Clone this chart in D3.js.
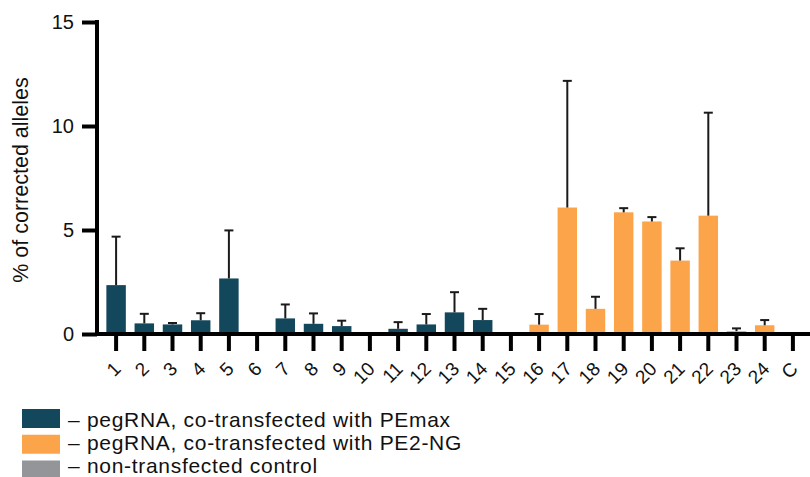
<!DOCTYPE html>
<html>
<head>
<meta charset="utf-8">
<script src="https://cdn.jsdelivr.net/npm/d3@7"></script>
<style>
	body { margin: 0; background: #fff; }
	svg text { font-family: "Liberation Sans", Arial, sans-serif; fill: #111; }
</style>
</head>
<body>
<svg id="chart" width="810" height="477"></svg>
<script>
// categories along the x axis
var categories = ['1', '2', '3', '4', '5', '6', '7', '8', '9', '10', '11', '12', '13',
	'14', '15', '16', '17', '18', '19', '20', '21', '22', '23', '24', 'C'];

// mean % of corrected alleles and upper error (SD)
var means = [2.35, 0.51, 0.46, 0.66, 2.67, 0, 0.75, 0.49, 0.38, 0.06, 0.25, 0.46, 1.04,
	0.67, 0.03, 0.45, 6.08, 1.21, 5.85, 5.41, 3.53, 5.69, 0.14, 0.42, 0];
var errors = [2.33, 0.46, 0.07, 0.34, 2.31, 0, 0.67, 0.5, 0.26, 0, 0.32, 0.5, 0.97,
	0.54, 0, 0.51, 6.09, 0.58, 0.2, 0.21, 0.59, 4.95, 0.13, 0.25, 0];

// group of each category: 0 = PEmax, 1 = PE2-NG, 2 = control
var groups = [0, 0, 0, 0, 0, 0, 0, 0, 0, 0, 0, 0, 0, 0, 1, 1, 1, 1, 1, 1, 1, 1, 1, 1, 2];

var yTicks = [0, 5, 10, 15];

var legendLabels = ['– pegRNA, co-transfected with PEmax',
	'– pegRNA, co-transfected with PE2-NG',
	'– non-transfected control'];
var groupColors = ['#13475b', '#fca44a', '#939598'];

var svg = d3.select('#chart');

var x = d3.scaleBand()
		.domain(categories)
		.range([102, 807])
		.paddingInner(0.31)
		.paddingOuter(0.155);

var y = d3.scaleLinear()
		.domain([0, 15])
		.range([334, 22]);

// bars
svg.append('g').selectAll('rect')
		.data(categories)
		.enter().append('rect')
		.attr('x', function (d) { return x(d); })
		.attr('width', x.bandwidth())
		.attr('y', function (d, i) { return y(means[i]); })
		.attr('height', function (d, i) { return y(0) - y(means[i]); })
		.attr('fill', function (d, i) { return groupColors[groups[i]]; });

// error bars (upper only)
var err = svg.append('g').attr('stroke', '#1a1a1a').attr('stroke-width', 2);
categories.forEach(function (c, i) {
	if (errors[i] <= 0) return;
	var cx = x(c) + x.bandwidth() / 2,
		top = y(means[i] + errors[i]);
	err.append('line')
			.attr('x1', cx).attr('x2', cx)
			.attr('y1', y(means[i])).attr('y2', top);
	err.append('line')
			.attr('x1', cx - 4.5).attr('x2', cx + 4.5)
			.attr('y1', top).attr('y2', top);
});

// y axis
var yAxis = svg.append('g')
		.attr('transform', 'translate(97,0)')
		.call(d3.axisLeft(y).tickValues(yTicks).tickSize(15).tickPadding(8));
yAxis.select('.domain').attr('stroke', '#000').attr('stroke-width', 4)
		.attr('d', 'M0,' + (y(15) - 2) + 'V' + (y(0) + 2));
yAxis.selectAll('.tick line').attr('stroke', '#000').attr('stroke-width', 4);
yAxis.selectAll('.tick text')
		.style('font-size', '20px')
		.style('font-family', '"Liberation Sans", Arial, sans-serif')
		.attr('fill', '#111');

// x axis
var xAxis = svg.append('g')
		.attr('transform', 'translate(0,334)')
		.call(d3.axisBottom(x).tickSize(17).tickFormat(''));
xAxis.select('.domain').attr('stroke', '#000').attr('stroke-width', 4)
		.attr('d', 'M95,0H810');
xAxis.selectAll('.tick line').attr('stroke', '#000').attr('stroke-width', 4);

svg.append('g').selectAll('text')
		.data(categories)
		.enter().append('text')
		.attr('transform', function (d) {
			return 'translate(' + (x(d) + x.bandwidth() / 2 + 6) + ',370) rotate(-45)';
		})
		.attr('text-anchor', 'end')
		.style('font-size', '19px')
		.text(function (d) { return d; });

// y axis title
svg.append('text')
		.attr('transform', 'translate(28,180) rotate(-90)')
		.attr('text-anchor', 'middle')
		.style('font-size', '21.5px')
		.text('% of corrected alleles');

// legend
var legend = svg.append('g');
legendLabels.forEach(function (label, i) {
	legend.append('rect')
			.attr('x', 22).attr('y', 409 + i * 25.75)
			.attr('width', 38).attr('height', 19)
			.attr('fill', groupColors[i]);
	legend.append('text')
			.attr('x', 68).attr('y', 427 + i * 23)
			.style('font-size', '21px')
			.style('letter-spacing', '0.7px')
			.text(label);
});
</script>
</body>
</html>
